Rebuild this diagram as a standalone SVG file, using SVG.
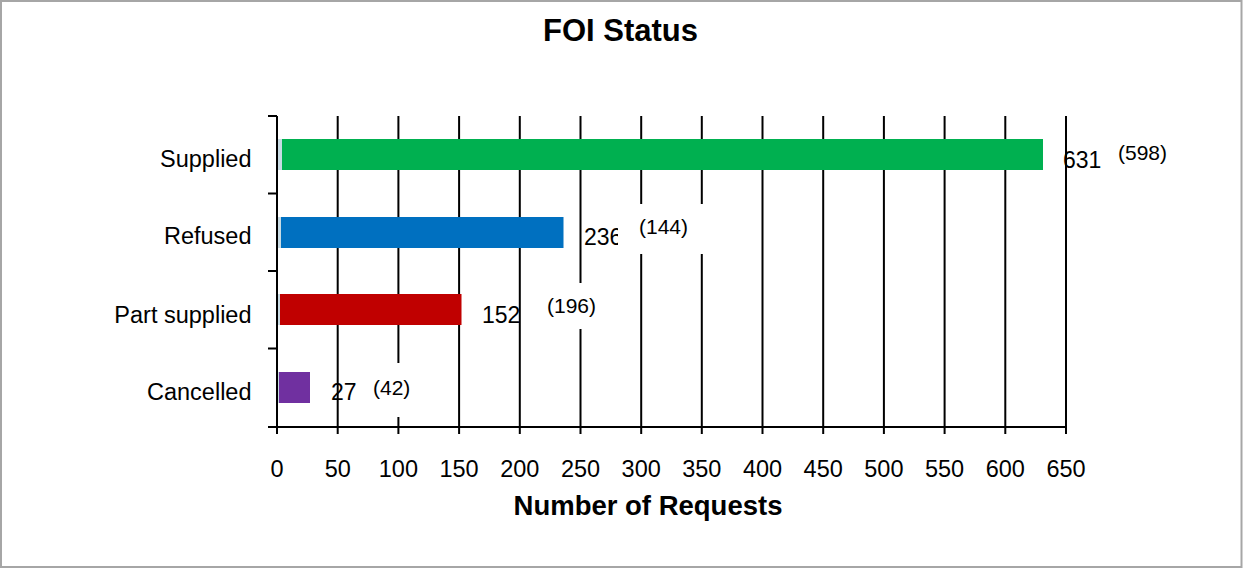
<svg xmlns="http://www.w3.org/2000/svg" width="1243" height="569" viewBox="0 0 1243 569">
  <style>
    text { font-family: "Liberation Sans", Arial, sans-serif; fill: #000; }
    .title { font-size: 31px; font-weight: bold; text-anchor: middle; }
    .axtitle { font-size: 27.5px; font-weight: bold; text-anchor: middle; }
    .cat { font-size: 23.5px; text-anchor: end; }
    .tick { font-size: 23.5px; text-anchor: middle; }
    .val { font-size: 23px; }
    .prev { font-size: 21px; }
    .grid { stroke: #000; stroke-width: 2; fill: none; }
    .axis { stroke: #000; stroke-width: 2; fill: none; }
    .mask { fill: #fff; stroke: none; }
    .sliver { fill: #c8dbe4; }
  </style>
  <rect x="0" y="0" width="1243" height="569" fill="#fff"/>
  <rect x="1" y="1" width="1240.5" height="566" fill="#fff" stroke="#a6a6a6" stroke-width="2"/>

  <text class="title" x="620.5" y="41">FOI Status</text>

  <g id="gridlines">
    <path class="grid" d="M337.7 116V427M398.4 116V427M459.1 116V427M519.8 116V427M580.5 116V427M641.2 116V427M701.8 116V427M762.5 116V427M823.2 116V427M883.9 116V427M944.6 116V427M1005.3 116V427M1066 116V427"/>
  </g>

  <g id="axes">
    <path class="axis" d="M277 116V427M268 116H277M268 193.5H277M268 271H277M268 348.5H277M268 427H1066"/>
    <path class="axis" d="M277 427V434M337.7 427V434M398.4 427V434M459.1 427V434M519.8 427V434M580.5 427V434M641.2 427V434M701.8 427V434M762.5 427V434M823.2 427V434M883.9 427V434M944.6 427V434M1005.3 427V434M1066 427V434"/>
  </g>

  <g id="bars">
    <g id="bar-supplied">
      <rect class="sliver" x="278" y="139" width="4" height="31"/>
      <rect x="282" y="139" width="761" height="31" fill="#00b050"/>
    </g>
    <g id="bar-refused">
      <rect class="sliver" x="278" y="217" width="3" height="31"/>
      <rect x="281" y="217" width="282.5" height="31" fill="#0070c0"/>
    </g>
    <g id="bar-part-supplied">
      <rect class="sliver" x="278" y="294" width="2" height="31"/>
      <rect x="280" y="294" width="181.5" height="31" fill="#c00000"/>
    </g>
    <g id="bar-cancelled">
      <rect class="sliver" x="278" y="372" width="1" height="31"/>
      <rect x="279" y="372" width="31" height="31" fill="#7030a0"/>
    </g>
  </g>

  <g id="category-labels">
    <text class="cat" x="251.5" y="167">Supplied</text>
    <text class="cat" x="251.5" y="244">Refused</text>
    <text class="cat" x="251.5" y="323">Part supplied</text>
    <text class="cat" x="251.5" y="400">Cancelled</text>
  </g>

  <g id="tick-labels">
    <text class="tick" x="277" y="477">0</text>
    <text class="tick" x="337.7" y="477">50</text>
    <text class="tick" x="398.4" y="477">100</text>
    <text class="tick" x="459.1" y="477">150</text>
    <text class="tick" x="519.8" y="477">200</text>
    <text class="tick" x="580.5" y="477">250</text>
    <text class="tick" x="641.2" y="477">300</text>
    <text class="tick" x="701.8" y="477">350</text>
    <text class="tick" x="762.5" y="477">400</text>
    <text class="tick" x="823.2" y="477">450</text>
    <text class="tick" x="883.9" y="477">500</text>
    <text class="tick" x="944.6" y="477">550</text>
    <text class="tick" x="1005.3" y="477">600</text>
    <text class="tick" x="1066" y="477">650</text>
  </g>

  <text class="axtitle" x="648" y="515">Number of Requests</text>

  <g id="value-labels">
    <text class="val" x="1063" y="168">631</text>
    <text class="prev" x="1118" y="160">(598)</text>

    <text class="val" x="584" y="245">236</text>
    <rect class="mask" x="618" y="204" width="94" height="50"/>
    <text class="prev" x="639" y="234">(144)</text>

    <text class="val" x="482" y="323">152</text>
    <rect class="mask" x="540" y="283" width="64" height="46"/>
    <text class="prev" x="547" y="313">(196)</text>

    <text class="val" x="331" y="400">27</text>
    <rect class="mask" x="366" y="363" width="52" height="54"/>
    <text class="prev" x="373" y="395">(42)</text>
  </g>
</svg>
